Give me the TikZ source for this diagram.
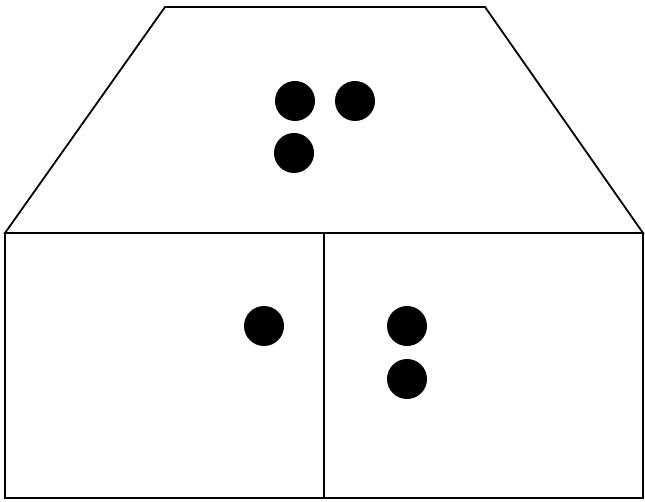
\documentclass[tikz,border=0pt]{standalone}
\begin{document}
\begin{tikzpicture}[x=1pt,y=-1pt,
  edge/.style={draw=black,line width=1.8pt,line join=miter},
  dot/.style={fill=black}]
\useasboundingbox (0,0) rectangle (645,502);
% roof trapezoid
\draw[edge] (165,7) -- (485,7) -- (643,233) -- (5,233) -- cycle;
% two boxes
\draw[edge] (5,233) rectangle (324,498);
\draw[edge] (324,233) rectangle (643,498);
% dots
\fill[dot] (295,101) circle (20);
\fill[dot] (355,101) circle (20);
\fill[dot] (294,153) circle (20);
\fill[dot] (264,326) circle (20);
\fill[dot] (407,326) circle (20);
\fill[dot] (407,379) circle (20);
\end{tikzpicture}
\end{document}
